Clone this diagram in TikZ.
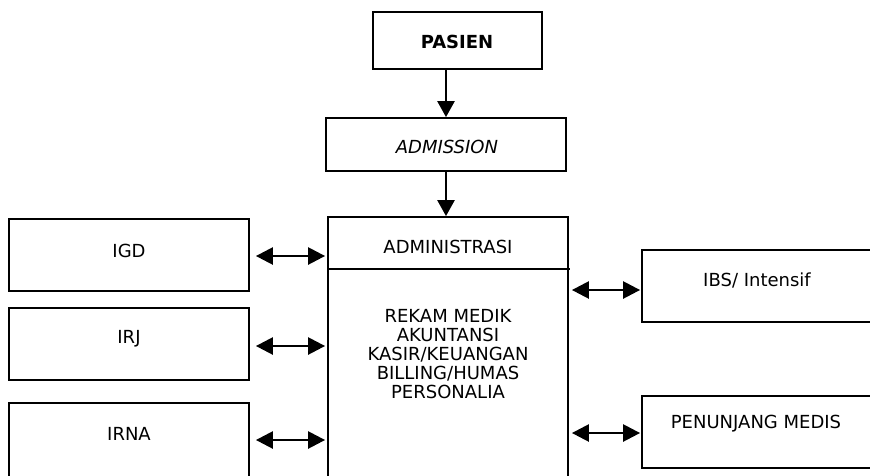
\documentclass[tikz,border=0pt]{standalone}
\usepackage{fontspec}
\setmainfont{DejaVu Sans}
\usetikzlibrary{arrows.meta}
\begin{document}
\begin{tikzpicture}[x=1pt,y=-1pt,
  box/.style={draw=black, line width=1.8pt, rectangle, inner sep=0pt},
  lbl/.style={font=\fontsize{18}{19}\selectfont, align=center, inner sep=0pt},
  onearrow/.style={line width=2.5pt, -{Triangle[length=16pt,width=17pt]}},
  twoarrow/.style={line width=2.5pt, {Triangle[length=17pt,width=17pt]}-{Triangle[length=17pt,width=17pt]}}]
\useasboundingbox (0,0) rectangle (870,475);
\clip (0,0) rectangle (870,475);

% top chain
\node[box, minimum width=169pt, minimum height=57pt] (pasien) at (457.5,40.5) {};
\node[lbl, font=\fontsize{18}{19}\selectfont\bfseries] (tpasien) at (457,42) {PASIEN};
\node[box, minimum width=240pt, minimum height=53pt] (admission) at (446,144.5) {};
\node[lbl, font=\fontsize{18}{19}\selectfont\itshape] (tadmission) at (447,147) {ADMISSION};

% central administration block
\node[box, minimum width=240pt, minimum height=290pt] (mainbox) at (448,362) {};
\coordinate (divl) at (328,269);
\coordinate (divr) at (570,269);
\draw[line width=1.8pt] (divl) -- (divr);
\node[lbl] (tadmin) at (448,247) {ADMINISTRASI};
\node[lbl] (tunits) at (448,354) {REKAM MEDIK\\AKUNTANSI\\KASIR/KEUANGAN\\BILLING/HUMAS\\PERSONALIA};

% left units
\node[box, minimum width=240pt, minimum height=72pt] (igd) at (129,255) {};
\node[lbl] (tigd) at (129,251) {IGD};
\node[box, minimum width=240pt, minimum height=72pt] (irj) at (129,344) {};
\node[lbl] (tirj) at (129,339) {IRJ};
\node[box, minimum width=240pt, minimum height=74pt] (irna) at (129,440) {};
\node[lbl] (tirna) at (129,434) {IRNA};

% right units
\node[box, minimum width=238pt, minimum height=72pt] (ibs) at (761,286) {};
\node[lbl] (tibs) at (757,280) {IBS/ Intensif};
\node[box, minimum width=238pt, minimum height=72pt] (pen) at (761,432) {};
\node[lbl] (tpen) at (756,424) {PENUNJANG MEDIS};

% connectors
\draw[onearrow] (pasien.south -| admission.north) -- (admission.north);
\draw[onearrow] (admission.south) -- (admission.south |- mainbox.north);
\draw[twoarrow, shorten <=6pt, shorten >=2pt] ([yshift=-1pt]igd.east) -- ([yshift=-1pt]igd.east -| mainbox.west);
\draw[twoarrow, shorten <=6pt, shorten >=2pt] ([yshift=-2pt]irj.east) -- ([yshift=-2pt]irj.east -| mainbox.west);
\draw[twoarrow, shorten <=6pt, shorten >=2pt] (irna.east) -- (irna.east -| mainbox.west);
\draw[twoarrow, shorten <=3pt, shorten >=1pt] ([yshift=-4pt]ibs.west -| mainbox.east) -- ([yshift=-4pt]ibs.west);
\draw[twoarrow, shorten <=3pt, shorten >=1pt] ([yshift=-1pt]pen.west -| mainbox.east) -- ([yshift=-1pt]pen.west);
\end{tikzpicture}
\end{document}
